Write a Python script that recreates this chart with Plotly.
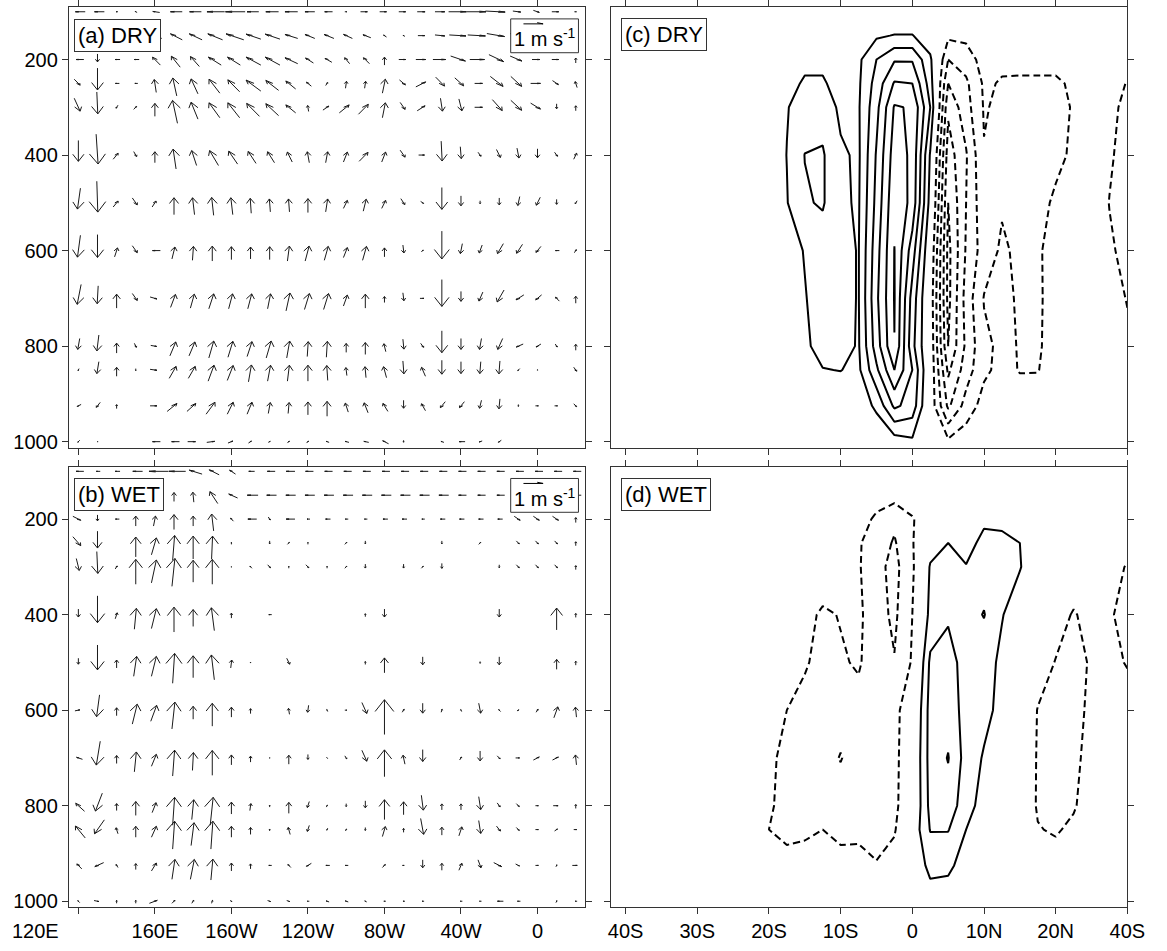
import math
import plotly.graph_objects as go

# ---------------- data ----------------
LON = [120, 130, 140, 150, 160, 170, 180, 190, 200, 210, 220, 230, 240, 250,
       260, 270, 280, 290, 300, 310, 320, 330, 340, 350, 360, 370, 380]
LON_TICKS = [120, 160, 200, 240, 280, 320, 360]
LON_LABELS = ['120E', '160E', '160W', '120W', '80W', '40W', '0']
LEV = [100, 150, 200, 250, 300, 400, 500, 600, 700, 800, 850, 925, 1000]
P_TICKS = [200, 400, 600, 800, 1000]
LAT = [-22.5, -20, -17.5, -15, -12.5, -10, -7.5, -5, -2.5, 0, 2.5, 5, 7.5, 10,
       12.5, 15, 17.5, 20, 22.5, 25, 27.5, 30]
LAT_TICKS = [-40, -30, -20, -10, 0, 10, 20, 30]
LAT_LABELS = ['40S', '30S', '20S', '10S', '0', '10N', '20N', '40S']
REF_SPEED = 20  # vector units drawn in the "1 m s-1" key

# vector components (units of 0.05 m/s ; vertical component scaled)
U_DRY = [
    [-10, -10, -2, -2, -7, -12, -12, -18, -20, -12, -13, -13, -10, -8, 2, 7, 7, 7, 8, 10, 18, 20, 20, 8, 6, 7, 2],
    [-8, -8, -6, -6, -10, -12, -13, -15, -18, -15, -15, -13, -10, -10, -9, -8, -3, -2, 7, 10, 17, 18, 18, 12, 8, 6, 3],
    [-8, 0, -5, -5, -8, -9, -9, -13, -13, -15, -15, -13, -8, -7, -5, -6, 0, 7, 10, 13, 15, 15, 15, 12, 8, 7, 0],
    [6, 0, -4, -3, -2, -4, -7, -11, -12, -15, -13, -10, -5, 2, 1, 1, 3, 6, 10, 9, 9, 8, 13, 11, 10, 6, -2],
    [6, 1, -2, 3, 0, -5, -7, -11, -12, -13, -13, -10, -1, 6, 10, 10, 3, 5, 8, 2, 3, 8, 10, 11, 10, 0, 0],
    [0, 2, 5, 3, 0, -3, -5, -9, -9, -8, -7, -5, -2, 2, 4, 9, 4, 5, 6, 1, 1, 3, 4, 2, 0, 3, 3],
    [-3, 1, 5, 5, 4, 0, -2, -2, -2, -1, -1, -1, 0, 2, 4, 3, 4, 4, 3, 0, 0, 0, 0, -2, -4, 0, -2],
    [-3, 0, 3, 5, -8, 3, 1, 0, 0, 0, 0, 2, 4, 4, 4, 4, 0, 1, 2, 0, -2, -3, -6, -6, -5, -4, 2],
    [-4, -1, 0, 5, 7, 5, 4, 5, 4, 4, 3, 4, 5, 5, 4, 0, 0, 1, 4, 0, 0, -4, -7, -8, -6, -4, 0],
    [-2, -2, 0, 2, 6, 6, 6, 5, 5, 5, 5, 3, 1, 1, 0, 0, -2, 1, 3, 0, 0, -2, -5, -7, -5, 2, 0],
    [-1, -2, 0, 0, 7, 7, 7, 6, 6, 3, 3, 2, 0, -1, -1, -1, -3, 1, -4, 0, 0, -1, -1, -2, 0, 0, 3],
    [-4, -4, 0, 0, 7, 10, 9, 9, 6, 5, 2, 1, 0, 0, -3, -4, -5, 0, -4, -5, -5, -2, -1, 0, 3, 3, 3],
    [-2, -1, 0, 0, -8, -8, 8, 8, 5, 3, 2, 2, 2, -3, -4, -5, -6, 0, 0, -3, -6, -3, -3, 0, 0, 0, 0],
]
W_DRY = [
    [0, 0, 0, 1, 1, 0, 0, 0, 0, 0, 0, 0, 0, 0, 0, 0, 0, 0, 0, 0, 0, 0, -1, -1, -2, 0, 0],
    [3, 3, 2, 2, 4, 6, 6, 6, 6, 5, 5, 4, 4, 4, 4, 3, 2, 1, 0, -1, -1, -1, -3, -3, -2, -1, 0],
    [0, -8, 0, 0, 8, 11, 10, 8, 8, 8, 8, 6, 5, 4, 6, 6, 8, 0, 0, 0, -5, 0, -7, -5, 0, 0, 5],
    [-6, -22, 0, 0, 13, 18, 15, 14, 12, 11, 10, 8, 4, 3, 7, 7, 14, -5, 5, -9, -8, 0, -10, -10, 0, -4, 6],
    [-13, -22, -3, 3, 13, 23, 17, 15, 15, 13, 12, 8, 6, 4, 8, 10, 15, -7, 5, -13, -12, 0, -11, -10, -6, -5, 5],
    [-21, -30, 6, -5, 11, 20, 15, 15, 13, 12, 11, 10, 11, 11, 10, 9, 10, -7, 0, -20, -12, -4, -8, -10, -9, -4, 6],
    [-21, -31, 6, -7, 6, 17, 17, 18, 17, 15, 13, 13, 14, 13, 8, 12, 8, -6, -2, -22, -10, -3, -7, -9, -8, -5, -3],
    [-22, -23, 9, -7, 0, 12, 14, 15, 13, 12, 13, 15, 15, 14, 10, 14, 9, -8, 2, -28, -10, -8, -10, -9, -6, 0, 3],
    [-20, -18, 14, -7, -2, 13, 14, 15, 15, 15, 15, 18, 16, 16, 11, 14, 6, -8, 0, -27, -10, -9, -12, -5, -5, 4, 7],
    [-11, -16, 10, -4, -1, 14, 14, 17, 16, 15, 17, 17, 15, 16, 9, 12, 8, -10, -4, -22, -11, -11, -11, -3, -3, -3, 6],
    [-2, -12, 9, -2, -1, 12, 12, 16, 15, 17, 16, 16, 16, 15, 8, 11, 11, -13, 9, -14, -12, -12, -13, -2, -1, 0, -4],
    [-2, -5, 4, 0, 0, 8, 8, 12, 12, 12, 11, 11, 13, 15, 9, 10, 8, -8, 7, -6, -6, -8, -10, -2, 0, 0, -3],
    [-2, 0, 0, 0, 0, 0, 0, 1, 2, 2, 1, 2, 2, 1, 1, 1, 3, -2, 0, 1, 0, -1, -2, 0, 0, 0, 0],
]
U_WET = [
    [-8, -4, -5, -10, -20, -17, -13, -10, -6, -6, -8, -9, -8, -8, -8, -8, -8, -8, -8, -8, -8, -8, -8, -8, -8, -8, -8],
    [-5, -5, -5, -5, -5, 0, -1, -8, -9, -11, -10, -10, -10, -10, -10, -10, -10, -10, -10, -10, -8, -8, -8, -8, -8, -8, -8],
    [8, 0, -4, 0, 2, 0, 0, -2, -3, -9, 2, -9, -3, -5, -3, -3, -5, -5, -3, -5, -5, -5, -5, 6, 6, 6, 0],
    [8, 0, 0, 0, 5, 2, 0, 1, 0, 0, 0, 2, 0, 0, 2, 0, 0, 0, 0, 0, 0, 2, 0, 3, 3, 3, 0],
    [3, 1, 2, 0, 5, 3, 0, 0, 0, -2, 3, 0, 3, 0, 2, 0, 0, 0, 2, 0, 0, 0, 0, 3, 3, 3, 0],
    [0, 0, 2, 2, 5, 0, 0, -3, 0, 0, -3, 0, 0, 0, 0, 0, 0, 0, 0, 0, 0, 0, 0, 0, 0, 0, 0],
    [0, 0, 0, 3, 5, 2, 0, -3, 1, 0, 0, 3, 0, 0, 0, 0, 0, 0, 0, 0, 0, 0, 0, 0, 0, 0, 0],
    [5, -3, 0, 5, 6, 3, 0, 0, 0, 0, 0, -1, -1, -1, 2, 5, 0, 2, 0, 1, -1, 2, -2, 2, 2, 4, -1],
    [-6, -4, 0, 2, 5, 2, 1, 0, 0, 0, 0, 0, 0, -1, 2, 5, 0, -2, 0, 0, 2, 0, 3, 4, 6, 6, -1],
    [-9, -7, 0, 0, 4, 2, 2, 3, 0, 1, 0, 0, -2, 1, 0, 0, 0, 0, 2, 0, 0, 2, 3, 3, 3, 5, 0],
    [-10, -10, -2, 0, 5, 2, 3, 2, 0, 0, 0, -2, -2, -1, 1, 0, 3, 0, 3, 0, 3, 2, 4, 3, 3, 3, 3],
    [-5, -9, -2, 0, 5, 3, 4, 2, 0, 0, -3, -3, -5, -4, -3, 0, 3, 2, 0, 0, 3, 3, 8, 4, 3, 1, 5],
    [-2, 5, 0, 0, 8, 3, 2, 1, 2, 0, 3, 3, -2, -3, -3, -2, -2, -2, -2, 0, -2, -2, -6, -3, 0, 1, -2],
]
W_WET = [
    [0, 0, 0, 0, 0, 0, 4, 5, 4, 0, 0, 0, 0, 0, 0, 0, 0, 0, 0, 0, 0, 0, 0, 0, 0, 0, 0],
    [0, 0, 0, 0, 0, 9, 10, 12, 4, 0, 0, 0, 0, 0, 0, 0, 0, 0, 0, 0, 0, 0, 0, 0, 0, 0, 0],
    [-4, -6, 0, 10, 10, 15, 10, 17, 3, 0, -3, 0, 0, 0, 0, 0, 0, 0, 0, 0, 0, 0, 0, -4, -4, -4, 5],
    [-9, -17, 0, 20, 17, 25, 23, 23, 2, 0, -3, 2, 2, 0, 2, -3, 0, 0, 0, -3, 0, 2, 0, -3, -3, -3, 4],
    [-12, -22, 3, 25, 23, 28, 22, 25, 1, 2, -3, 2, -3, 2, 2, -4, 0, -4, 2, -5, 0, 0, -3, -3, -3, -3, 4],
    [-8, -27, 6, 21, 20, 25, 17, 23, 5, 0, 0, 0, 0, 0, 0, 3, -8, 0, 0, 0, 0, 0, -8, 0, 0, 22, 4],
    [-6, -25, 8, 20, 20, 30, 22, 25, 8, 1, 0, -6, 0, 0, 0, 3, 15, 0, -8, 0, 0, 2, -8, 0, 0, 10, 4],
    [1, -22, 8, 20, 16, 27, 13, 23, 10, 5, 0, 6, -7, 2, 0, -11, 35, 3, -10, 3, 2, -10, 2, 1, 3, 11, 10],
    [2, -24, 8, 20, 12, 26, 18, 25, 10, 6, 1, 9, -5, 1, -3, -11, 27, 9, -12, 0, 3, -10, -3, 0, 3, 3, 10],
    [8, -18, 7, 14, 10, 28, 20, 28, 12, 7, 2, 11, -6, 2, -3, -7, 20, 13, -15, 6, 6, -13, -4, -3, 0, 0, 4],
    [12, -14, 6, 11, 11, 28, 23, 28, 11, 7, 2, 7, -6, -2, 2, -3, 10, 4, -16, 8, 9, -13, -5, -3, 0, 2, 0],
    [5, -4, 3, 6, 8, 20, 20, 21, 8, 5, 0, 3, -3, 0, 0, 0, 3, 0, -8, 7, 7, -8, -4, -2, 0, 2, 0],
    [2, -1, 3, 3, 3, 3, 3, 3, -1, 0, -1, -1, 0, 1, 1, 1, 0, 0, 0, 0, 0, 0, 0, 0, 0, 2, 0],
]

# contoured field (contour interval 1; solid > 0, dashed < 0)
Z_DRY = [
    [0, 0, 0, 0, 0, 0, 0, 0, 0, 0, 0, 0, 0, 0, 0, 0, 0, 0, 0, 0, 0, 0],
    [0, 0, 0, 0, 0, 0, 0, 0.85, 1.05, 1.05, 0.3, -0.8, -0.75, -0.3, -0.4, -0.4, -0.4, -0.4, -0.4, -0.3, -0.2, -0.2],
    [0, 0, 0.2, 0.7, 0.7, 0.3, 0.8, 2.0, 2.9, 2.9, 1.2, -2.0, -1.5, -0.6, -0.8, -0.8, -0.8, -0.8, -0.8, -0.6, -0.4, -0.6],
    [0, 0, 0.6, 1.15, 1.15, 0.5, 0.85, 2.4, 4.1, 4.0, 1.5, -3.0, -2.2, -0.85, -1.08, -1.1, -1.1, -1.1, -0.9, -0.7, -0.6, -1.05],
    [0, 0.2, 0.95, 1.4, 1.6, 0.8, 0.9, 2.7, 5.1, 4.9, 2.0, -3.8, -2.4, -0.92, -1.2, -1.25, -1.25, -1.2, -0.95, -0.7, -0.8, -1.2],
    [0, 0.3, 1.02, 2.02, 2.1, 1.15, 0.85, 3.1, 5.5, 4.8, 0.9, -4.5, -3.1, -1.05, -1.2, -1.3, -1.3, -1.15, -0.9, -0.6, -0.9, -1.3],
    [0, 0.3, 0.95, 1.9, 2.1, 1.15, 0.9, 3.3, 5.8, 4.7, 0.6, -5.0, -3.0, -1.3, -1.1, -1.3, -1.2, -0.9, -0.6, -0.5, -1.02, -1.3],
    [0, 0.2, 0.6, 1.05, 1.5, 1.3, 0.95, 3.6, 6.02, 3.5, 0, -5.3, -2.9, -1.5, -0.85, -1.2, -1.1, -0.7, -0.4, -0.3, -0.9, -1.2],
    [0, 0.2, 0.5, 0.95, 1.4, 1.3, 0.95, 3.8, 6.05, 2.6, -0.3, -5.3, -2.6, -0.95, -0.8, -1.1, -1.15, -0.6, -0.3, -0.2, -0.6, -1.05],
    [0, 0.1, 0.4, 0.85, 1.3, 1.4, 0.9, 3.5, 5.98, 2.3, -0.2, -5.0, -2.8, -1.2, -0.8, -1.05, -1.15, -0.5, -0.2, -0.1, -0.4, -0.8],
    [0, 0, 0.2, 0.5, 0.97, 1.02, 0.8, 2.8, 5.0, 3.0, -0.2, -4.2, -2.5, -1.2, -0.7, -1.05, -1.05, -0.4, -0.1, 0, -0.2, -0.6],
    [0, 0, 0, 0.2, 0.4, 0.4, 0.4, 1.2, 3.2, 2.6, -0.3, -3.2, -1.6, -0.6, -0.3, -0.5, -0.4, -0.1, 0, 0, 0, -0.2],
    [0, 0, 0, 0, 0, 0, 0, 0.2, 0.5, 0.8, -0.2, -0.8, -0.4, 0, 0, 0, 0, 0, 0, 0, 0, 0],
]
Z_WET = [
    [0, 0, 0, 0, 0, 0, 0, 0, 0, 0, 0, 0, 0, 0, 0, 0, 0, 0, 0, 0, 0, 0],
    [0, 0, 0, 0, 0, 0, 0, -0.5, -0.6, -0.3, 0, 0, 0, 0.3, 0, 0, 0, 0, 0, 0, 0, 0],
    [0, 0, 0, 0, 0, 0, -0.5, -1.2, -1.8, -1.1, -0.2, 0.4, 0.5, 0.8, 0.7, 0.6, 0.2, 0, 0, 0, 0, 0],
    [0, 0, 0, 0, 0, -0.3, -0.9, -1.5, -2.1, -1.1, 0.5, 1.0, 0.6, 1.3, 1.3, 1.0, 0.3, 0, 0, 0, 0, -0.3],
    [0, 0, 0, 0, -0.3, -0.6, -0.9, -1.7, -2.3, -1.2, 1.1, 1.4, 1.05, 1.5, 1.5, 1.05, 0.4, 0, -0.2, -0.2, -0.5, -1.1],
    [0, 0, -0.3, -0.7, -1.15, -0.95, -0.8, -1.6, -2.2, -1.0, 1.3, 1.9, 1.6, 2.05, 1.05, 0.5, 0, -0.5, -1.1, -0.6, -0.9, -1.3],
    [0, -0.3, -0.6, -0.9, -1.3, -1.1, -0.9, -1.5, -1.95, -0.9, 2.2, 2.3, 1.7, 1.4, 0.8, 0.2, -0.4, -1.05, -1.3, -0.9, -0.6, -1.1],
    [0, -0.6, -1.0, -1.3, -1.4, -1.6, -1.3, -1.4, -1.3, -0.3, 2.4, 2.6, 1.6, 1.3, 0.7, 0.1, -1.05, -1.4, -1.3, -0.8, -0.4, -0.3],
    [0, -0.85, -1.2, -1.5, -1.6, -2.05, -1.5, -1.4, -1.3, -0.1, 2.4, 3.05, 1.6, 0.9, 0.5, 0, -1.1, -1.4, -1.2, -0.7, -0.3, -0.2],
    [0, -0.9, -1.25, -1.5, -1.4, -1.5, -1.5, -1.4, -1.25, -0.1, 2.3, 2.6, 1.4, 0.6, 0.3, -0.2, -1.1, -1.3, -1.1, -0.5, -0.2, 0],
    [0, -1.0, -1.3, -1.35, -1.0, -1.3, -1.2, -1.3, -1.1, 0.3, 2.05, 2.05, 1.0, 0.3, 0.1, -0.3, -0.95, -1.1, -0.8, -0.3, 0, 0],
    [0, -0.3, -0.6, -0.2, -0.4, -0.6, -0.7, -0.95, -0.6, 0.2, 1.3, 1.2, 0.6, 0.1, 0, 0, -0.4, -0.6, -0.3, 0, 0, 0],
    [0, 0, 0, 0, 0, -0.2, -0.1, -0.3, -0.2, 0, 0.5, 0.5, 0.1, 0, 0, 0, 0, 0, 0, 0, 0, 0],
]

# ---------------- layout geometry ----------------
W_PX, H_PX = 1167, 951
XL = (67, 593)
XR = (619, 1145)
YT = (7.5, 450)
YB = (469.5, 912)
LON_RANGE = [115, 385]
LAT_RANGE = [-42.05, 30]
P_RANGE = [1012.5, 91]

SX = (XL[1] - XL[0]) / (LON_RANGE[1] - LON_RANGE[0])   # px per degree
SY = (YT[1] - YT[0]) / (P_RANGE[0] - P_RANGE[1])       # px per hPa
PX_PER_UNIT = 1.0
K_ISO = 3.0
HEAD = 0.35
THETA = math.radians(15)
ANCHOR = 0.7   # grid point lies at this fraction of the shaft, from the tail


def dom_x(a):
    return [a[0] / W_PX, a[1] / W_PX]


def dom_y(a):
    return [1 - a[1] / H_PX, 1 - a[0] / H_PX]


def arrow(cx, cy, dx, dy):
    """arrow anchored at (cx, cy) [data]; dx, dy in px (dy up)."""
    tx, ty = cx - ANCHOR * dx / SX, cy + ANCHOR * dy / SY
    hx, hy = cx + (1 - ANCHOR) * dx / SX, cy - (1 - ANCHOR) * dy / SY
    ix, iy = dx, dy * K_ISO
    li = math.hypot(ix, iy)
    ux, uy = ix / li, iy / li
    h = HEAD * li
    barbs = []
    for s in (1, -1):
        c, sn = math.cos(THETA), s * math.sin(THETA)
        bx = -(ux * c - uy * sn) * h
        by = -(ux * sn + uy * c) * h
        barbs.append((hx + bx / SX, hy - (by / K_ISO) / SY))
    return ([tx, hx, None, barbs[0][0], hx, barbs[1][0], None],
            [ty, hy, None, barbs[0][1], hy, barbs[1][1], None])


def vector_paths(U, W):
    xs, ys = [], []
    for i, p in enumerate(LEV):
        for j, lon in enumerate(LON):
            dx = U[i][j] * PX_PER_UNIT
            dy = W[i][j] * PX_PER_UNIT
            if math.hypot(dx, dy) < 0.8:
                continue
            ax, ay = arrow(lon, p, dx, dy)
            xs += ax
            ys += ay
    return xs, ys


fig = go.Figure()

for U, W, xa, ya in [(U_DRY, W_DRY, 'x', 'y'), (U_WET, W_WET, 'x3', 'y3')]:
    vx, vy = vector_paths(U, W)
    fig.add_trace(go.Scatter(x=vx, y=vy, mode='lines', xaxis=xa, yaxis=ya,
                             line=dict(color='#1a1a1a', width=1),
                             hoverinfo='skip', showlegend=False))

BLACK = [[0, 'black'], [1, 'black']]
for Z, xa, ya in [(Z_DRY, 'x2', 'y2'), (Z_WET, 'x4', 'y4')]:
    fig.add_trace(go.Contour(x=LAT, y=LEV, z=Z, xaxis=xa, yaxis=ya,
                             autocontour=False,
                             contours=dict(start=1, end=12, size=1, coloring='lines'),
                             colorscale=BLACK, showscale=False,
                             line=dict(width=2, smoothing=0),
                             hoverinfo='skip'))
    fig.add_trace(go.Contour(x=LAT, y=LEV, z=Z, xaxis=xa, yaxis=ya,
                             autocontour=False,
                             contours=dict(start=-12, end=-1, size=1, coloring='lines'),
                             colorscale=BLACK, showscale=False,
                             line=dict(width=2, smoothing=0, dash='7px,4px'),
                             hoverinfo='skip'))

FONT = 'Liberation Sans, Arial, sans-serif'
axis_common = dict(showline=True, linecolor='#333', linewidth=1, mirror='ticks',
                   ticks='outside', ticklen=6, tickwidth=1, tickcolor='#333',
                   showgrid=False, zeroline=False,
                   tickfont=dict(family=FONT, size=20, color='black'))


def xa_lon(dom, anchor, labels):
    # first label is placed separately (offset to the left in the original)
    return dict(axis_common, domain=dom_x(dom), range=LON_RANGE, anchor=anchor,
                tickvals=LON_TICKS, ticktext=[''] + LON_LABELS[1:],
                showticklabels=labels)


def xa_lat(dom, anchor, labels):
    return dict(axis_common, domain=dom_x(dom), range=LAT_RANGE, anchor=anchor,
                tickvals=LAT_TICKS, ticktext=LAT_LABELS, showticklabels=labels)


def ya_p(dom, anchor, labels):
    return dict(axis_common, domain=dom_y(dom), range=P_RANGE, anchor=anchor,
                tickvals=P_TICKS, ticktext=[str(v) for v in P_TICKS],
                showticklabels=labels)


fig.update_layout(
    width=W_PX, height=H_PX, autosize=False,
    margin=dict(l=0, r=0, t=0, b=0),
    paper_bgcolor='white', plot_bgcolor='white',
    showlegend=False,
    xaxis=xa_lon(XL, 'y', False), yaxis=ya_p(YT, 'x', True),
    xaxis2=xa_lat(XR, 'y2', False), yaxis2=ya_p(YT, 'x2', False),
    xaxis3=xa_lon(XL, 'y3', True), yaxis3=ya_p(YB, 'x3', True),
    xaxis4=xa_lat(XR, 'y4', True), yaxis4=ya_p(YB, 'x4', False),
)

ann = []
for txt, x, y in [('(a) DRY', 72, 19), ('(b) WET', 72, 481),
                  ('(c) DRY', 629, 18), ('(d) WET', 629, 481)]:
    ann.append(dict(text=txt, x=x / W_PX, y=1 - y / H_PX, xref='paper', yref='paper',
                    xanchor='left', yanchor='top', showarrow=False,
                    font=dict(family=FONT, size=22, color='black'),
                    bgcolor='white', bordercolor='#333', borderwidth=1, borderpad=3))

# first longitude label, drawn left of its tick as in the original
ann.append(dict(text=LON_LABELS[0], x=LON_TICKS[0], xref='x3', xshift=-43,
                y=1 - 936 / H_PX, yref='paper', xanchor='center', yanchor='middle',
                showarrow=False, font=dict(family=FONT, size=20, color='black')))

shapes = []
for top in (19, 481):
    # key box
    shapes.append(dict(type='rect', xref='paper', yref='paper', layer='above',
                       x0=517 / W_PX, x1=586 / W_PX,
                       y0=1 - (top + 34) / H_PX, y1=1 - top / H_PX,
                       fillcolor='white', line=dict(color='#333', width=1)))
    ann.append(dict(text='1 m s<sup>-1</sup>', x=552 / W_PX, y=1 - (top + 19) / H_PX,
                    xref='paper', yref='paper', xanchor='center', yanchor='middle',
                    showarrow=False, font=dict(family=FONT, size=20, color='black')))
    # reference arrow of the key
    y_key = 1 - (top + 5) / H_PX
    x0, x1 = 530 / W_PX, 530 / W_PX + REF_SPEED * PX_PER_UNIT / W_PX
    shapes.append(dict(type='line', xref='paper', yref='paper', layer='above',
                       x0=x0, x1=x1, y0=y_key, y1=y_key,
                       line=dict(color='black', width=1)))
    shapes.append(dict(type='line', xref='paper', yref='paper', layer='above',
                       x0=x1 - 6 / W_PX, x1=x1, y0=y_key + 1.2 / H_PX, y1=y_key,
                       line=dict(color='black', width=1)))

fig.update_layout(annotations=ann, shapes=shapes)

fig.write_html('out.html')
